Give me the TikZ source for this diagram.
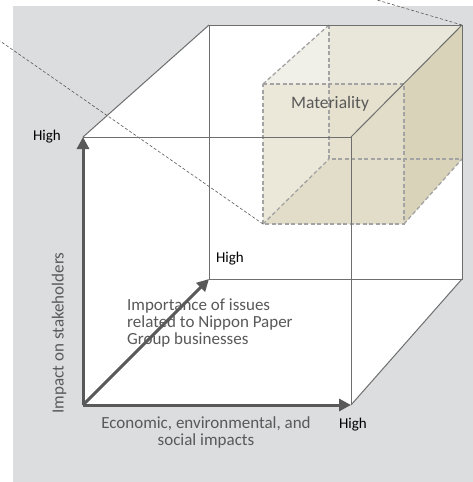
\documentclass[tikz,border=0pt]{standalone}
\usepackage{fontspec}
\setmainfont{Carlito}
\usetikzlibrary{arrows.meta}
\definecolor{bg}{HTML}{DCDDDE}
\definecolor{edge}{HTML}{6E6E6E}
\definecolor{axis}{HTML}{595959}
\definecolor{txt}{HTML}{595959}
\definecolor{dsh}{HTML}{A3A3A3}
\definecolor{mtop}{HTML}{E9E7D9}
\definecolor{mtopl}{HTML}{F1F0E8}
\definecolor{mfront}{HTML}{EBE8D9}
\definecolor{mback}{HTML}{E5E1CE}
\definecolor{mbot}{HTML}{E1DDC8}
\definecolor{mright}{HTML}{D8D3B9}
\begin{document}
\begin{tikzpicture}[x={(1pt,0)},y={(0,-1pt)},
  cubeedge/.style={draw=edge,line width=1pt},
  axisarrow/.style={draw=axis,line width=3pt,-{Triangle[length=12pt,width=12pt]}},
  hidden/.style={draw=dsh,line width=1.3pt,dash pattern=on 4pt off 2.5pt},
  zoomline/.style={draw=axis,line width=0.6pt,dash pattern=on 3pt off 2pt},
  hightext/.style={font=\fontsize{15}{17}\selectfont,text=black,inner sep=0pt},
  label/.style={font=\fontsize{17}{17}\selectfont,text=txt,inner sep=0pt}]
\useasboundingbox (0,0) rectangle (473,482);
\fill[bg] (13,6) rectangle (473,482);
% big cube corners
\coordinate (FTL) at (83,137);
\coordinate (FTR) at (351,137);
\coordinate (FBL) at (83,405);
\coordinate (FBR) at (351,405);
\coordinate (BTL) at (209,25);
\coordinate (BTR) at (462,25);
\coordinate (BBL) at (209,279);
\coordinate (BBR) at (462,279);
% inner cube corners
\coordinate (iFTL) at (263,84);
\coordinate (iFTR) at (404,84);
\coordinate (iFBL) at (263,224);
\coordinate (iFBR) at (404,224);
\coordinate (iBTL) at (329,25);
\coordinate (iBTR) at (462,25);
\coordinate (iBBL) at (329,159);
\coordinate (iBBR) at (462,159);
% white silhouette
\fill[white] (FTL) -- (BTL) -- (BTR) -- (BBR) -- (FBR) -- (FBL) -- cycle;
% materiality cube fills
\fill[mtop] (iFTL) -- (iBTL) -- (iBTR) -- (iFTR) -- cycle;
\fill[mtopl] (iFTL) -- (iBTL) -- (329,84) -- cycle;
\fill[mfront] (iFTL) rectangle (iFBR);
\fill[mback] (329,84) rectangle (404,159);
\fill[mbot] (iFBL) -- (iBBL) -- (404,159) -- (iFBR) -- cycle;
\fill[mbot] (FTR) -- (iFTR) -- (iFBR) -- (351,224) -- cycle;
\fill[mright] (iFTR) -- (iBTR) -- (iBBR) -- (iFBR) -- cycle;
% hidden edges of materiality cube
\draw[hidden] (iFTL) -- (iFTR) -- (iFBR) -- (iFBL) -- cycle;
\draw[hidden] (iBTL) -- (iBBL) -- (iBBR);
\draw[hidden] (iFTL) -- (iBTL);
\draw[hidden] (iFBL) -- (iBBL);
\draw[hidden] (iFBR) -- (iBBR);
% magnification lines
\coordinate (z1) at (377,0);
\coordinate (z2) at (0,41);
\draw[zoomline] (iBTR) -- (z1);
\draw[zoomline] (iFBL) -- (z2);
% big cube edges
\draw[cubeedge] (BTL) -- (BTR) -- (BBR) -- (BBL) -- cycle;
\draw[cubeedge] (FTL) -- (FTR) -- (FBR);
\draw[cubeedge] (FTL) -- (BTL);
\draw[cubeedge] (FTR) -- (BTR);
\draw[cubeedge] (FBR) -- (BBR);
% axes
\draw[axisarrow] (FBL) -- (FTL);
\draw[axisarrow] (FBL) -- (FBR);
\draw[axisarrow] (FBL) -- (BBL);
% texts
\node[hightext] (h1) at (47,137) {High};
\node[hightext] (h2) at (230,259) {High};
\node[hightext] (h3) at (353,425) {High};
\node[label,font=\fontsize{17.5}{19}\selectfont] (mat) at (330,104) {Materiality};
\node[label,anchor=north west,align=left] (imp) at (127,299) {Importance of issues\\related to Nippon Paper\\Group businesses};
\node[label,anchor=north,align=center] (eco) at (206,416) {Economic, environmental, and\\social impacts};
\node[label,rotate=90] (stk) at (59,333) {Impact on stakeholders};
\end{tikzpicture}
\end{document}
